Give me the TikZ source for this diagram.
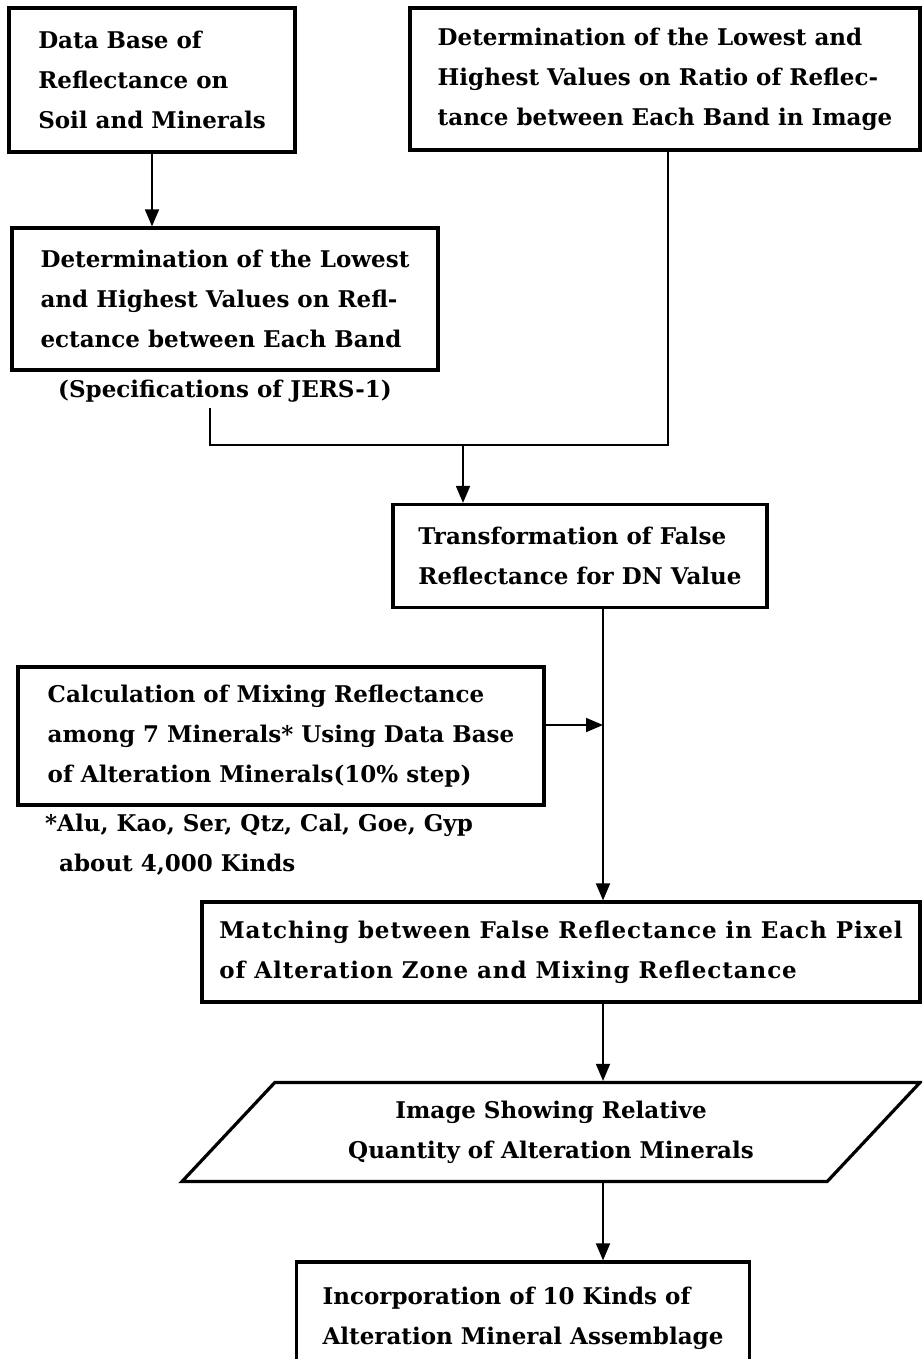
\documentclass[tikz,border=0pt]{standalone}
\usepackage{fontspec}
\setmainfont{DejaVu Serif}
\usetikzlibrary{positioning,arrows.meta,shapes.geometric}

\begin{document}
\begin{tikzpicture}[x=1pt,y=-1pt,
	every node/.style={font=\bfseries\fontsize{23}{40}\selectfont,align=left,inner sep=0pt},
	box/.style={draw,line width=3.2pt},
	flow/.style={line width=1.8pt},
	arr/.style={flow,-{Triangle[length=17pt,width=14pt]}},
	node distance=0pt]
\useasboundingbox (0,0) rectangle (922,1359);
\clip (0,0) rectangle (922,1359);

\foreach \n/\x/\y/\w/\h/\t in {
	A/152/80/286/144/{Data Base of\\Reflectance on\\Soil and Minerals},
	B/665/79/510/142/{Determination of the Lowest and\\Highest Values on Ratio of Reflec-\\tance between Each Band in Image},
	C/225/299/426/142/{Determination of the Lowest\\and Highest Values on Refl-\\ectance between Each Band},
	D/580/556/374/103/{Transformation of False\\Reflectance for DN Value},
	F/281/736/526/138/{Calculation of Mixing Reflectance\\among 7 Minerals* Using Data Base\\of Alteration Minerals(10\% step)},
	E/561/952/718/100/{\addfontfeature{LetterSpace=4}Matching between False Reflectance in Each Pixel\\\addfontfeature{LetterSpace=4}of Alteration Zone and Mixing Reflectance},
	G/523/1318/453/112/{Incorporation of 10 Kinds of\\Alteration Mineral Assemblage}}
	\node[box,minimum width=\w pt,minimum height=\h pt] (\n) at (\x,\y) {\t};

\node[box,trapezium,trapezium left angle=34,trapezium right angle=146,trapezium stretches body,
	minimum width=738pt,minimum height=99pt,align=center] (P) at (551,1132) {Image Showing Relative\\Quantity of Alteration Minerals};

\node[below=of C,yshift=-8pt] (spec) {(Specifications of JERS-1)};
\node[anchor=north west] (note) at (45,814) {*Alu, Kao, Ser, Qtz, Cal, Goe, Gyp\\\hspace*{14pt}about 4,000 Kinds};

% joining lines
\coordinate (j0) at (210,408);
\coordinate (j1) at (210,445);
\coordinate (j2) at (668,445);
\coordinate (j3) at (463,445);
\coordinate (c) at (603,0);
\coordinate (m) at (603,725);

\draw[arr] (A.south) -- (A.south |- C.north);
\draw[flow] (j0) -- (j1) -- (j2) -- (B.south -| j2);
\draw[arr] (j3) -- (j3 |- D.north);
\draw[arr] (D.south -| c) -- (c |- E.north);
\draw[arr] (F.east |- m) -- (m);
\draw[arr] (E.south -| c) -- (c |- P.north);
\draw[arr] (P.south -| c) -- (c |- G.north);
\end{tikzpicture}
\end{document}
